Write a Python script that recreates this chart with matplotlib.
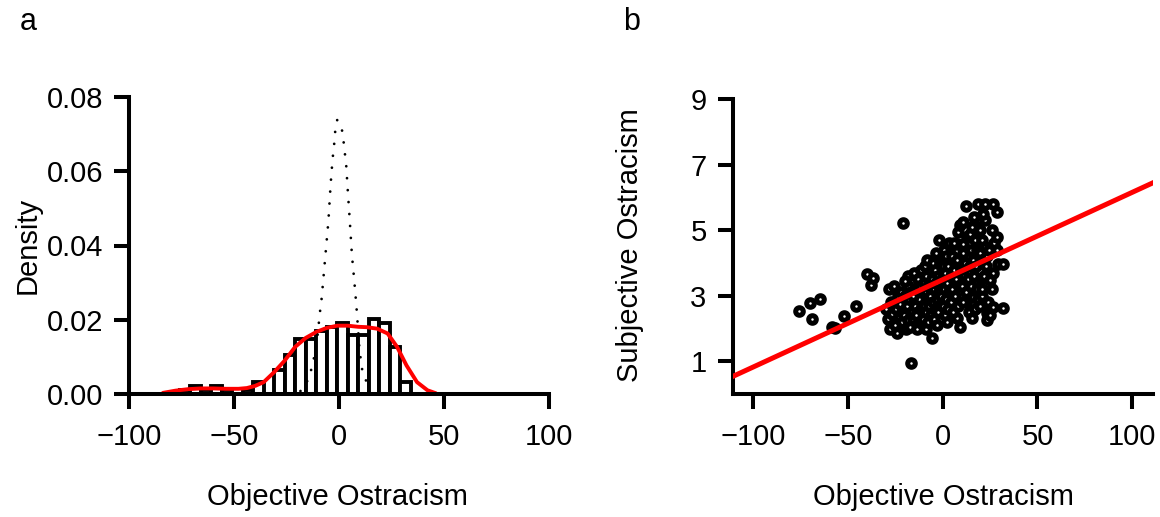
import matplotlib
matplotlib.use("Agg")
import matplotlib.pyplot as plt
import numpy as np

plt.rcParams['font.family'] = ['Liberation Sans', 'DejaVu Sans']
plt.rcParams['font.size'] = 21

# objective vs subjective ostracism (panel b)
obj = [-75.7, -70.0, -68.7, -64.7, -58.5, -56.5, -51.9, -45.7, -40.1, -37.6, -36.5,
       -30.0, -29.0, -28.1, -27.5, -27.0, -26.5,
       -25.8, -25.0, -24.5, -23.9, -23.7, -23.0, -22.5, -22.0, -21.5, -21.3,
       -20.8, -16.7, -20.5, -20.0, -19.5, -19.0, -18.5, -18.0, -18.0, -17.5, -17.0, -16.5, -16.2, -19.8,
       -15.5, -15.0, -14.5, -14.0, -13.5, -13.0, -13.0, -12.5, -12.0, -12.0, -11.5, -11.3, -15.8, -14.2,
       -6.7, -10.5, -10.0, -10.0, -9.5, -9.0, -9.0, -8.5, -8.5, -8.0, -8.0, -7.5, -7.5, -7.0, -6.5, -6.2,
       -5.6, -1.8, -5.5, -5.0, -5.0, -4.5, -4.5, -4.0, -4.0, -3.5, -3.5, -3.0, -3.0, -2.5, -2.5, -2.0, -1.5,
       1.2, -0.8, 3.8, -0.5, 0.0, 0.0, 0.5, 0.5, 1.0, 1.5, 2.0, 2.0, 2.5, 2.5, 3.0, 3.0, 3.5, 3.5,
       8.2, 7.4, 7.4, 4.5, 4.5, 5.0, 5.0, 5.5, 6.0, 6.0, 6.5, 7.0, 7.5, 8.0, 8.5,
       9.1, 10.9, 10.9, 9.1, 12.3, 9.5, 10.0, 10.5, 11.0, 11.5, 12.0, 12.5, 13.0, 13.5, 13.8,
       18.8, 18.8, 14.4, 15.3, 16.1, 16.1, 14.5, 15.0, 15.0, 15.5, 16.0, 16.5, 17.0, 17.0, 17.5, 18.0, 18.0, 18.5, 16.8,
       22.3, 22.3, 19.7, 23.2, 23.2, 23.9, 19.5, 20.0, 20.5, 21.0, 21.0, 21.5, 22.0, 22.5, 23.0, 19.5, 20.5, 23.5,
       26.7, 28.5, 25.8, 26.7, 26.7, 25.8, 24.9, 24.5, 27.0, 28.9, 25.0, 28.8,
       29.3, 31.6, 31.9]
subj = [2.53, 2.78, 2.30, 2.90, 2.05, 2.01, 2.38, 2.70, 3.65, 3.34, 3.55,
        2.60, 2.30, 3.22, 2.00, 2.80, 2.45,
        3.29, 2.10, 2.60, 1.85, 2.99, 2.35, 2.75, 3.10, 2.20, 2.50,
        5.22, 0.95, 2.40, 3.00, 2.00, 2.70, 3.30, 2.25, 3.60, 2.90, 2.05, 3.10, 2.50, 3.45,
        2.30, 3.70, 2.70, 3.20, 2.00, 3.50, 2.50, 2.90, 3.30, 2.20, 3.80, 2.60, 3.00, 2.40,
        3.96, 2.30, 3.40, 2.70, 3.90, 2.00, 3.10, 2.50, 3.60, 2.90, 4.10, 2.20, 3.30, 2.70, 3.00, 2.40,
        1.71, 4.70, 3.50, 2.80, 4.00, 2.30, 3.20, 3.80, 2.60, 3.40, 4.30, 2.90, 2.10, 3.60, 2.50, 3.10, 4.00,
        4.09, 3.00, 4.49, 3.50, 2.70, 3.90, 3.20, 4.40, 2.40, 3.70, 2.90, 4.20, 3.40, 2.20, 3.90, 2.60, 3.10, 4.60,
        4.95, 4.59, 2.31, 3.60, 2.80, 4.20, 3.20, 2.50, 3.80, 4.60, 3.00, 3.50, 4.10, 2.70, 3.30,
        5.15, 5.25, 4.59, 2.05, 5.73, 3.80, 3.30, 4.30, 2.80, 3.60, 4.00, 3.10, 4.80, 3.50, 2.50,
        5.81, 5.30, 4.90, 2.31, 2.76, 2.97, 3.90, 4.40, 3.30, 5.10, 4.10, 3.60, 4.70, 2.60, 3.90, 4.40, 3.20, 2.90, 5.40,
        5.81, 5.30, 5.00, 2.26, 2.46, 2.81, 4.30, 3.50, 4.70, 3.00, 4.10, 5.50, 3.60, 4.50, 3.90, 2.70, 3.20, 4.20,
        5.81, 5.56, 5.00, 3.70, 2.66, 3.22, 3.48, 4.40, 4.60, 4.80, 2.40, 4.39,
        3.98, 3.98, 2.63]

hist_bins = list(range(-76, 35, 5))

# fitted line in panel b
fit_intercept = 3.49
fit_slope = 0.0267

# red density curve (panel a)
kde_x = [-84, -78, -72, -66, -60, -54, -48, -44, -40, -36, -31, -26, -21, -16, -11, -6, -1,
         4, 9, 13, 18, 23, 27.5, 32, 37, 42, 46]
kde_y = [0.0003, 0.0009, 0.0013, 0.0015, 0.0015, 0.0014, 0.0014, 0.0016, 0.0022, 0.0032,
         0.0059, 0.0090, 0.0127, 0.0151, 0.0167, 0.0178, 0.0184, 0.0184, 0.0181, 0.0180,
         0.0176, 0.0163, 0.0127, 0.0077, 0.0032, 0.0010, 0.0002]

# dotted reference curve (panel a)
ref_x = [-18.5, -16, -13.9, -12.3, -10.5, -9.2, -8.4, -6.8, -5.2, -4.1, -3.2, -2.5, -2.0,
         -1.0, 0.2, 1.2, 2.0, 3.3, 4.1, 4.9, 6.0, 7.1, 8.1, 9.0, 9.6, 10.8, 12.9, 15.5]
ref_y = [0.0008, 0.0025, 0.0054, 0.0090, 0.0150, 0.0221, 0.0258, 0.0362, 0.0465, 0.0567,
         0.0633, 0.0669, 0.0705, 0.0738, 0.0730, 0.0714, 0.0682, 0.0615, 0.0542, 0.0475,
         0.0375, 0.0307, 0.0240, 0.0170, 0.0120, 0.0068, 0.0033, 0.0010]

fig = plt.figure(figsize=(11.6, 5.17), dpi=100)
W, H = 1160, 517
ax1 = fig.add_axes([129.3 / W, 1 - 394 / H, 420 / W, 297 / H])
ax2 = fig.add_axes([733 / W, 1 - 394 / H, 420 / W, 294.7 / H])

for ax in (ax1, ax2):
    for s in ('top', 'right'):
        ax.spines[s].set_visible(False)
    for s in ('left', 'bottom'):
        ax.spines[s].set_linewidth(2.9)
    ax.tick_params(width=2.9, length=11, labelsize=21)
    ax.tick_params(axis='x', pad=10)
    ax.tick_params(axis='y', pad=8)

# panel a
ax1.hist(obj, bins=hist_bins, density=True, facecolor='white', edgecolor='black', linewidth=2.8)
ax1.plot(kde_x, kde_y, color='red', lw=2.8, solid_capstyle='round')
ax1.plot(ref_x, ref_y, color='black', lw=2.0, linestyle=(0, (0.01, 4.3)), dash_capstyle='round')
ax1.set_xlim(-100, 100)
ax1.set_ylim(0, 0.08)
ax1.set_xticks([-100, -50, 0, 50, 100])
ax1.set_yticks([0, 0.02, 0.04, 0.06, 0.08])
ax1.set_yticklabels(['0.00', '0.02', '0.04', '0.06', '0.08'])

# panel b
ax2.scatter(obj, subj, s=30, facecolors='white', edgecolors='black', linewidths=3.6, zorder=2)
ax2.axline((0, fit_intercept), slope=fit_slope, color='red', lw=3.6, zorder=3)
ax2.set_xlim(-110.5, 110.9)
ax2.set_ylim(0, 9)
ax2.set_xticks([-100, -50, 0, 50, 100])
ax2.set_yticks([1, 3, 5, 7, 9])

fig.text(337 / W, 1 - 497 / H, 'Objective Ostracism', ha='center', va='center', fontsize=21)
fig.text(943 / W, 1 - 497 / H, 'Objective Ostracism', ha='center', va='center', fontsize=21)
fig.text(28 / W, 1 - 245 / H, 'Density', ha='center', va='center', rotation=90, fontsize=21)
fig.text(630 / W, 1 - 245 / H, 'Subjective Ostracism', ha='center', va='center', rotation=90, fontsize=21)
fig.text(28 / W, 1 - 22 / H, 'a', ha='center', va='center', fontsize=22)
fig.text(632 / W, 1 - 22 / H, 'b', ha='center', va='center', fontsize=22)

fig.savefig('out.png', dpi=100)
